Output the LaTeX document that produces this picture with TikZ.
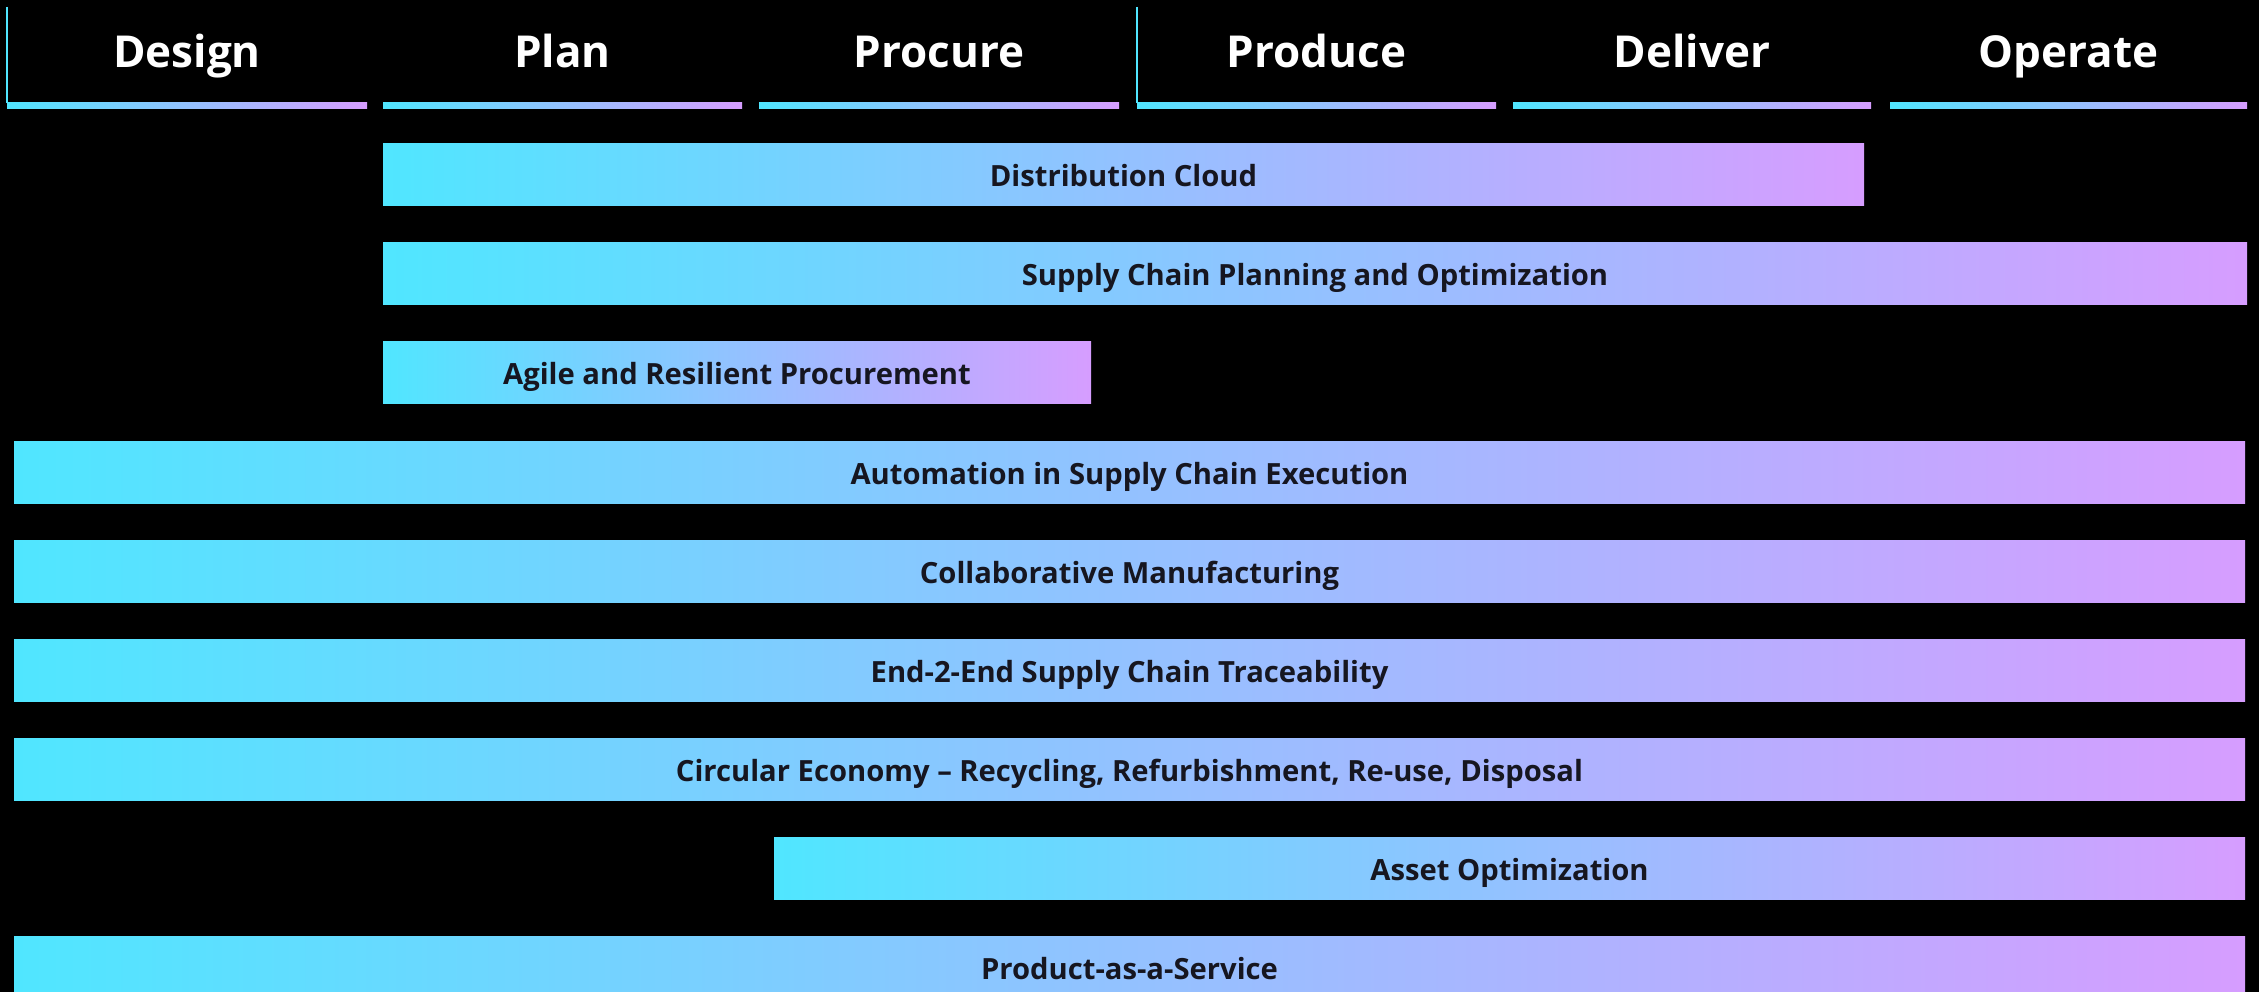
\documentclass[tikz,border=0pt]{standalone}
\usepackage{fontspec}
\setmainfont{Open Sans}
\begin{document}
\definecolor{gcyan}{RGB}{80,230,255}
\definecolor{gviolet}{RGB}{214,157,255}
\definecolor{bartext}{RGB}{22,22,32}
\begin{tikzpicture}[x=1pt,y=-1pt,
  phase/.style={text=white,font=\fontsize{44}{50}\selectfont\bfseries,anchor=base,inner sep=0pt},
  rule/.style={left color=gcyan,right color=gviolet,draw=none},
  bar/.style={left color=gcyan,right color=gviolet,draw=none,inner sep=0pt,
    text height=24pt,text depth=0pt,
    text=bartext,font=\fontsize{29.2}{35}\selectfont\bfseries},
  tick/.style={draw=gcyan,line width=1.6pt}]
\fill[black] (0,0) rectangle (2259,992);
\useasboundingbox (0,0) rectangle (2259,992);
\clip (0,0) rectangle (2259,992);

% phase headings with gradient underlines
\foreach \name/\txt/\xa/\xb in {design/Design/7/367, plan/Plan/383/742, procure/Procure/759/1119,
    produce/Produce/1137/1496, deliver/Deliver/1513/1871, operate/Operate/1890/2247}{
  \path[rule] (\xa,103) rectangle (\xb,109);
  \node[phase] (\name) at ({(\xa+\xb)/2},68) {\txt};
}
\coordinate (d0) at (7,7);
\coordinate (d1) at (7,103);
\coordinate (p0) at (1137,7);
\coordinate (p1) at (1137,103);
\draw[tick] (d0) -- (d1);
\draw[tick] (p0) -- (p1);

% capability bars: left edge, right edge, top edge
\foreach \name/\txt/\xa/\xb/\yt in {
    dist/Distribution Cloud/383/1864/144,
    scp/Supply Chain Planning and Optimization/383/2247/243,
    agile/Agile and Resilient Procurement/383/1091/341,
    auto/Automation in Supply Chain Execution/14/2245/441,
    collab/Collaborative Manufacturing/14/2245/540,
    trace/End-2-End Supply Chain Traceability/14/2245/639,
    circ/{Circular Economy – Recycling, Refurbishment, Re-use, Disposal}/14/2245/738,
    asset/Asset Optimization/774/2245/837,
    paas/Product-as-a-Service/14/2245/936}{
  \node[bar,minimum width={(\xb-\xa)*1pt},minimum height=62pt]
    (\name) at ({(\xa+\xb)/2},{\yt+31}) {\txt};
}
\end{tikzpicture}
\end{document}
